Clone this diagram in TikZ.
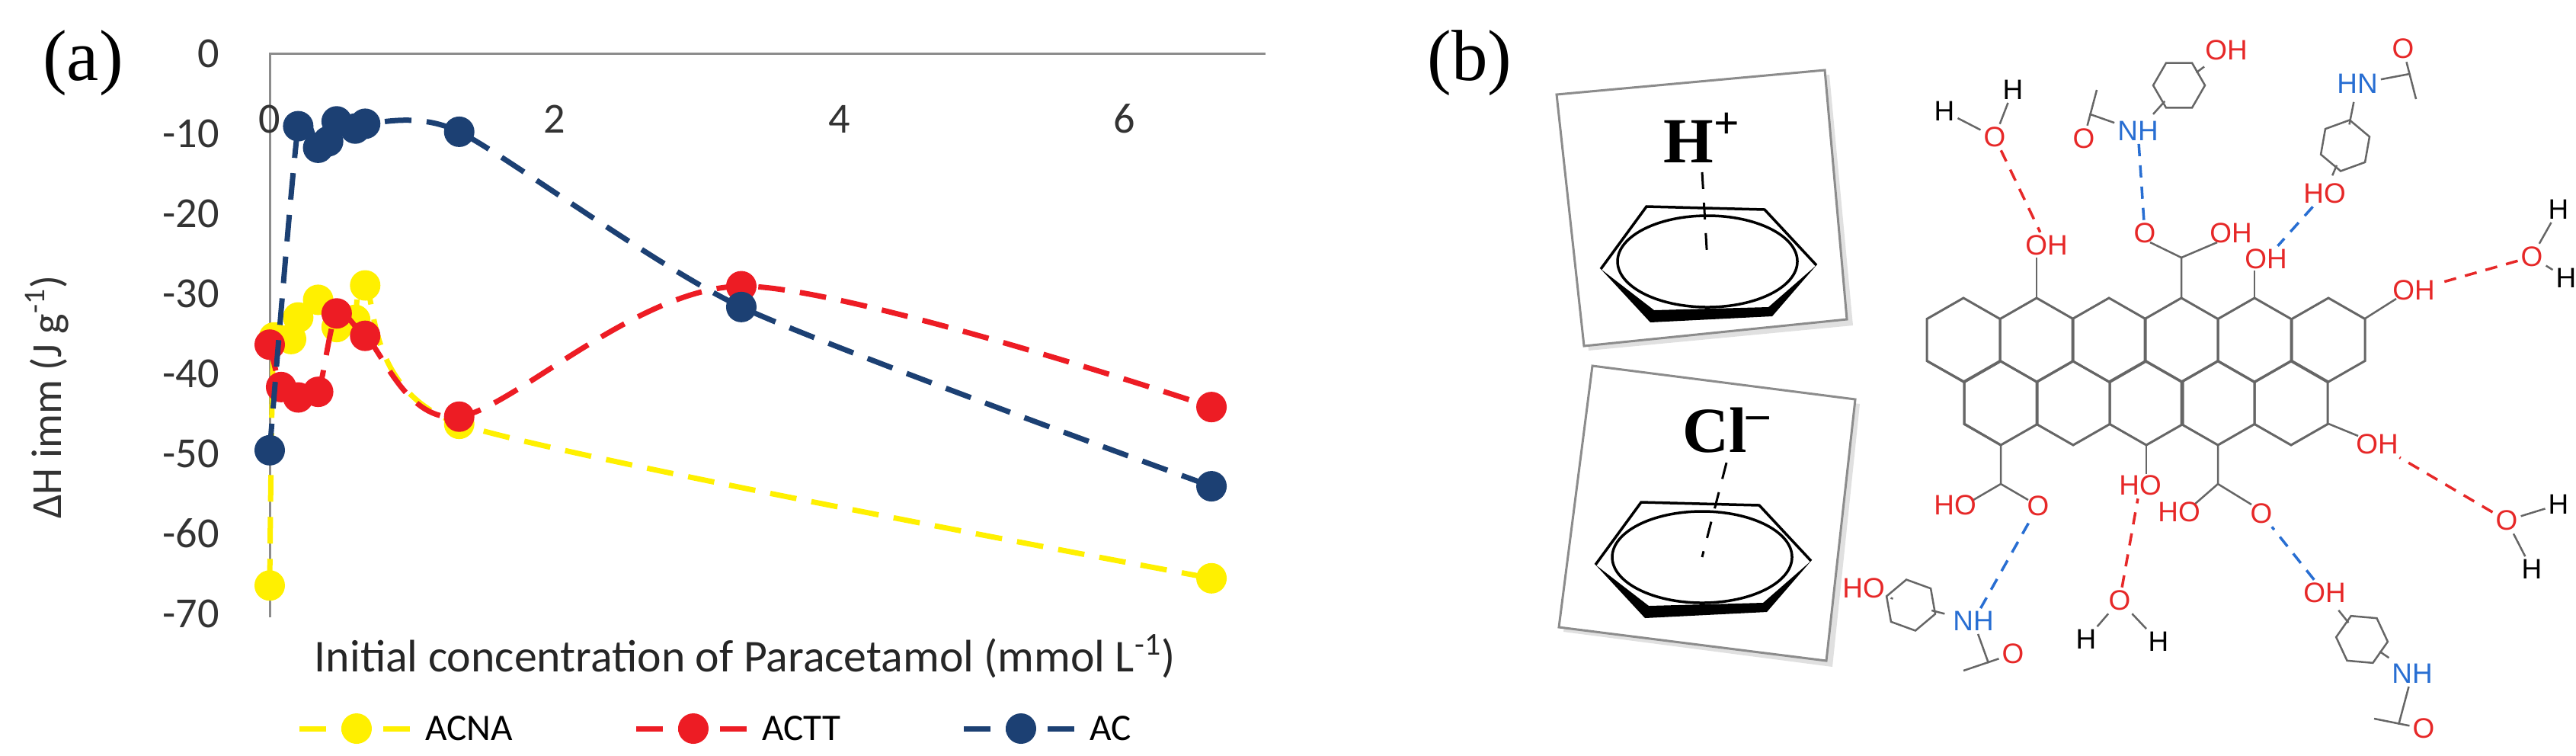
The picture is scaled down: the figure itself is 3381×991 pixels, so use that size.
\documentclass[tikz,border=0pt]{standalone}
\usepackage{fontspec}
\usetikzlibrary{calc}
\setmainfont{Liberation Serif}
\newfontfamily\carl{Carlito}
\newfontfamily\msans{Liberation Sans}
\begin{document}
\begin{tikzpicture}[x=0.1mm,y=-0.1mm,
  dsh/.style={dash pattern=on 3.5mm off 2mm, line width=0.7mm},
  mk/.style={circle,inner sep=0pt,minimum size=4mm},
  tick/.style={font=\carl\fontsize{16}{16}\selectfont,text=black!80},
  hb/.style={dash pattern=on 1.6mm off 1.2mm, line width=0.35mm},
  lab/.style={font=\msans\fontsize{10.5}{10.5}\selectfont,inner sep=1pt},
  bond/.style={draw=black!60,line width=0.25mm},
  box/.style={draw=black!45,line width=0.3mm,fill=white}]
\definecolor{cy}{RGB}{255,240,0}
\definecolor{cr}{RGB}{237,28,36}
\definecolor{cb}{RGB}{28,64,115}
\definecolor{hr}{RGB}{230,40,40}
\definecolor{hbl}{RGB}{40,110,210}
\useasboundingbox (0,0) rectangle (3381,991);
% ---------- panel (a)
\node[font=\fontsize{27}{27}\selectfont] (la) at (109,83) {(a)};
\coordinate (ax0) at (354,70); \coordinate (ax1) at (1661,70); \coordinate (ay1) at (354,810);
\draw[black!45,line width=0.3mm] (ax1) -- (ax0) -- (ay1);
\foreach \v/\lb in {0/0,1/-10,2/-20,3/-30,4/-40,5/-50,6/-60,7/-70}
  \node[tick,anchor=east] (yt\v) at (300,70+105*\v) {\lb};
\foreach \v in {0,2,4,6}
  \node[tick] (xt\v) at (354+187*\v,156) {\v};
\node[tick,rotate=90] (ylab) at (62,521) {ΔH imm (J g\textsuperscript{-1})};
\node[font=\carl\fontsize{17}{17}\selectfont,text=black!85] (xlab) at (978,861) {Initial concentration of Paracetamol (mmol L\textsuperscript{-1})};
\begin{scope}[shift={(35.4mm,-7mm)},x=18.7mm,y=1.05mm]
 \draw[cy,dsh] plot[smooth,tension=0.4] coordinates {(0,-66.5)(0.03,-35.5)(0.15,-35.7)(0.2,-33)(0.34,-30.8)(0.47,-34.2)(0.6,-33.3)(0.67,-29)(1.33,-46.3)(6.61,-65.6)};
 \foreach \p in {(0,-66.5),(0.03,-35.5),(0.15,-35.7),(0.2,-33),(0.34,-30.8),(0.47,-34.2),(0.6,-33.3),(0.67,-29),(1.33,-46.3),(6.61,-65.6)}
   \node[mk,fill=cy] at \p {};
 \draw[cr,dsh] plot[smooth,tension=0.5] coordinates {(0,-36.4)(0.08,-41.7)(0.2,-43)(0.34,-42.3)(0.47,-32.5)(0.67,-35.3)(1.33,-45.4)(3.31,-29.1)(6.61,-44.2)};
 \foreach \p in {(0,-36.4),(0.08,-41.7),(0.2,-43),(0.34,-42.3),(0.47,-32.5),(0.67,-35.3),(1.33,-45.4),(3.31,-29.1),(6.61,-44.2)}
   \node[mk,fill=cr] at \p {};
 \draw[cb,dsh] plot[smooth,tension=0.4] coordinates {(0,-49.6)(0.2,-9.1)(0.34,-11.8)(0.41,-11)(0.47,-8.5)(0.6,-9.4)(0.67,-8.8)(1.33,-9.8)(3.31,-31.7)(6.61,-54.1)};
 \foreach \p in {(0,-49.6),(0.2,-9.1),(0.34,-11.8),(0.41,-11),(0.47,-8.5),(0.6,-9.4),(0.67,-8.8),(1.33,-9.8),(3.31,-31.7),(6.61,-54.1)}
   \node[mk,fill=cb] at \p {};
\end{scope}
% legend
\foreach \c/\x/\t/\n in {cy/468/ACNA/l1,cr/910/ACTT/l2,cb/1340/AC/l3}{
  \draw[\c,dsh] (\x-75,956) -- (\x+75,956);
  \node[mk,fill=\c] (\n m) at (\x,956) {};
  \node[anchor=west,font=\carl\fontsize{14}{14}\selectfont] (\n t) at (\x+78,956) {\t};}
% ---------- panel (b)
\node[font=\fontsize{27}{27}\selectfont] (lb) at (1929,83) {(b)};
\fill[black!12] (2049,130)--(2401,98)--(2432,427)--(2085,460)--cycle;
\draw[box] (2043,124)--(2395,92)--(2424,419)--(2079,454)--cycle;
\fill[black!12] (2096,486)--(2441,530)--(2405,875)--(2052,829)--cycle;
\draw[box] (2090,480)--(2435,524)--(2397,867)--(2046,823)--cycle;
\node[font=\bfseries\fontsize{24}{24}\selectfont] (hp) at (2234,181) {H\textsuperscript{+}};
\node[font=\bfseries\fontsize{24}{24}\selectfont] (cl) at (2266,565) {Cl\textsuperscript{–}};
\foreach \cx/\cy/\n in {2241/343/b1,2234/731/b2}{
  \coordinate (\n) at (\cx,\cy);
  \draw[line width=0.35mm] (\cx-140,\cy+10) -- (\cx-80,\cy-72) -- (\cx+75,\cy-68) -- (\cx+143,\cy+5);
  \fill (\cx-140,\cy+10) -- (\cx-75,\cy+80) -- (\cx+85,\cy+72) -- (\cx+143,\cy+5) -- (\cx+80,\cy+60) -- (\cx-70,\cy+64) -- cycle;
  \draw[line width=0.35mm] (\cx,\cy) ellipse [x radius=118, y radius=60];
}
\draw[dash pattern=on 2.2mm off 1.8mm,line width=0.3mm] (hp.south) -- (b1);
\draw[dash pattern=on 2.2mm off 1.8mm,line width=0.3mm] (cl.south) -- (b2);
% graphene sheet
\foreach \cx/\cy in {2577/446,2673/446,2768/446,2863/446,2959/446,3056/446,2626/529,2721/529,2817/529,2911/529,3007/529}
  \draw[black!60,line width=0.3mm] (\cx,\cy-55)--(\cx+48,\cy-27.5)--(\cx+48,\cy+27.5)--(\cx,\cy+55)--(\cx-48,\cy+27.5)--(\cx-48,\cy-27.5)--cycle;
\draw[black!60,line width=0.3mm] (2529,473.5)--(2578,501)--(2578,556)--(2626,584);
% substituents
\node[lab,text=hr] (oh1) at (2686,322) {OH}; \draw[bond] (2673,391)--(2673,338);
\draw[bond] (2863,391)--(2863,338)--(2822,318); \draw[bond] (2863,338)--(2910,318);
\node[lab,text=hr] (co1) at (2815,306) {O}; \node[lab,text=hr] (oh2) at (2928,306) {OH};
\node[lab,text=hr] (oh3) at (2974,340) {OH}; \draw[bond] (2959,391)--(2959,355);
\node[lab,text=hr] (oh4) at (3168,381) {OH}; \draw[bond] (3104,418)--(3145,392);
\node[lab,text=hr] (oh5) at (3120,583) {OH}; \draw[bond] (3056,556)--(3095,572);
\node[lab,text=hr] (oh6) at (2809,637) {HO}; \draw[bond] (2817,584)--(2817,622);
\draw[bond] (2626,584)--(2626,635)--(2590,656); \draw[bond] (2626,635)--(2662,656);
\node[lab,text=hr] (ho7) at (2566,663) {HO}; \node[lab,text=hr] (co7) at (2675,664) {O};
\draw[bond] (2911,584)--(2911,635)--(2880,662); \draw[bond] (2911,635)--(2955,662);
\node[lab,text=hr] (ho8) at (2860,672) {HO}; \node[lab,text=hr] (co8) at (2968,674) {O};
% waters
\foreach \n/\ox/\oy/\hax/\hay/\hbx/\hby in {w1/2618/180/2552/146/2642/118, w2/3323/337/3358/275/3368/365, w3/3290/683/3358/662/3323/747, w4/2782/788/2738/839/2833/842}{
  \node[lab,text=hr] (\n) at (\ox,\oy) {O};
  \node[lab] (\n a) at (\hax,\hay) {H}; \node[lab] (\n b) at (\hbx,\hby) {H};
  \draw[bond] (\n) -- (\n a); \draw[bond] (\n) -- (\n b);}
\draw[hr,hb] (w1) -- (oh1);
\draw[hr,hb] (w2) -- (oh4);
\draw[hr,hb] (w3) -- (oh5);
\draw[hr,hb] (w4) -- (oh6);
% paracetamols
\foreach \n/\rx/\ry/\ang/\ohx/\ohy/\ohl/\nx/\ny/\nl/\cox/\coy/\mex/\mey in {
  p1/2860/112/60/2922/66/OH/2806/172/NH/2735/182/2752/118,
  p2/3078/191/-80/3051/254/HO/3094/110/HN/3154/64/3171/130,
  p3/2508/794/20/2446/772/HO/2590/815/NH/2642/858/2577/880,
  p4/3100/839/65/3051/778/OH/3166/884/NH/3181/956/3116/943}{
  \draw[black!60,line width=0.25mm] (\rx,\ry) ++(\ang:34) -- ++(\ang+120:34) -- ++(\ang+180:34) -- ++(\ang+240:34) -- ++(\ang+300:34) -- ++(\ang+360:34) -- cycle;
  \node[lab,text=hr] (\n o) at (\ohx,\ohy) {\ohl};
  \node[lab,text=hbl] (\n n) at (\nx,\ny) {\nl};
  \node[lab,text=hr] (\n c) at (\cox,\coy) {O};
  \coordinate (\n m) at (\mex,\mey);
  \draw[bond,shorten >=2pt,shorten <=8pt] (\rx,\ry) -- (\n o);
  \draw[bond,shorten >=2pt,shorten <=8pt] (\rx,\ry) -- (\n n);
  \draw[bond] (\n n) -- ($(\n c)!0.5!(\n m)$) coordinate (\n k) -- (\n c); \draw[bond] (\n k) -- (\n m);}
\draw[hbl,hb] (p1n) -- (co1);
\draw[hbl,hb] (p2o) -- (oh3);
\draw[hbl,hb] (p3n) -- (co7);
\draw[hbl,hb] (p4o) -- (co8);
\end{tikzpicture}
\end{document}
